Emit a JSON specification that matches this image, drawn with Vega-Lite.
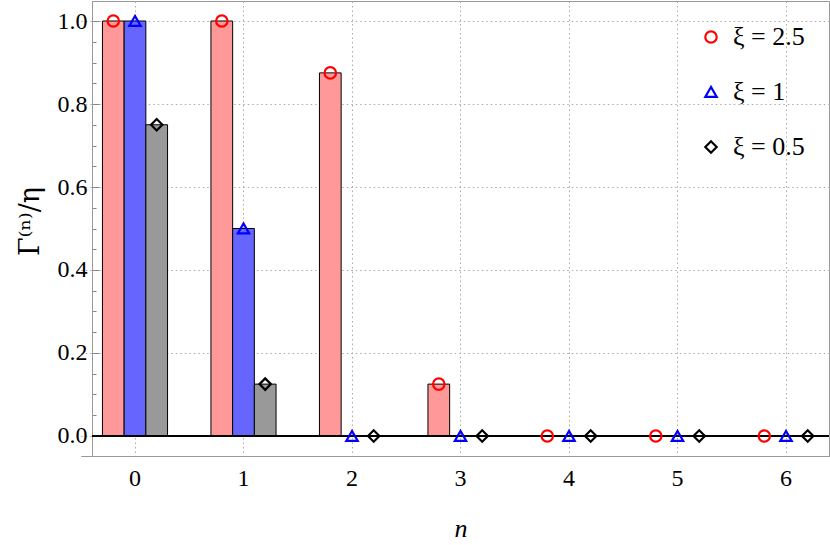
{
  "$schema": "https://vega.github.io/schema/vega-lite/v6.json",
  "width": 737,
  "height": 455,
  "autosize": {"type": "none"},
  "padding": {"left": 92, "top": 1, "right": 1, "bottom": 89},
  "config": {
    "view": {"stroke": "#999999", "strokeWidth": 1},
    "font": "Liberation Serif",
    "legend": {
      "orient": "none",
      "legendX": 606,
      "legendY": 23,
      "labelFontSize": 26,
      "labelFont": "Liberation Serif",
      "labelColor": "#000000",
      "labelOffset": 9,
      "labelExpr": "replace(replace(datum.label, ' ', '\u2002'), ' ', '\u2002')",
      "rowPadding": 29,
      "symbolSize": 130,
      "symbolStrokeWidth": 2.2
    }
  },
  "data": {
    "values": [
      {"n": 0, "xi": "ξ = 2.5", "value": 1},
      {"n": 1, "xi": "ξ = 2.5", "value": 1},
      {"n": 2, "xi": "ξ = 2.5", "value": 0.875},
      {"n": 3, "xi": "ξ = 2.5", "value": 0.125},
      {"n": 4, "xi": "ξ = 2.5", "value": 0},
      {"n": 5, "xi": "ξ = 2.5", "value": 0},
      {"n": 6, "xi": "ξ = 2.5", "value": 0},
      {"n": 0, "xi": "ξ = 1", "value": 1},
      {"n": 1, "xi": "ξ = 1", "value": 0.5},
      {"n": 2, "xi": "ξ = 1", "value": 0},
      {"n": 3, "xi": "ξ = 1", "value": 0},
      {"n": 4, "xi": "ξ = 1", "value": 0},
      {"n": 5, "xi": "ξ = 1", "value": 0},
      {"n": 6, "xi": "ξ = 1", "value": 0},
      {"n": 0, "xi": "ξ = 0.5", "value": 0.75},
      {"n": 1, "xi": "ξ = 0.5", "value": 0.125},
      {"n": 2, "xi": "ξ = 0.5", "value": 0},
      {"n": 3, "xi": "ξ = 0.5", "value": 0},
      {"n": 4, "xi": "ξ = 0.5", "value": 0},
      {"n": 5, "xi": "ξ = 0.5", "value": 0},
      {"n": 6, "xi": "ξ = 0.5", "value": 0}
    ]
  },
  "encoding": {
    "x": {
      "field": "n",
      "type": "ordinal",
      "scale": {"range": [-11.25, 748.25], "paddingInner": 0, "paddingOuter": 0},
      "axis": {
        "title": "n",
        "titleFont": "Liberation Serif",
        "titleFontStyle": "italic",
        "titleFontWeight": "normal",
        "titleFontSize": 26,
        "titlePadding": 25,
        "labelAngle": 0,
        "labelFontSize": 24,
        "labelPadding": 10,
        "labelColor": "#000000",
        "bandPosition": 0.5,
        "grid": true,
        "gridColor": "#aaaaaa",
        "gridDash": [1.5, 3],
        "ticks": false,
        "domainColor": "#999999"
      }
    },
    "xOffset": {
      "field": "xi",
      "type": "nominal",
      "scale": {"domain": ["ξ = 2.5", "ξ = 1", "ξ = 0.5"], "paddingInner": 0, "paddingOuter": 1}
    },
    "y": {
      "field": "value",
      "type": "quantitative",
      "scale": {"domain": [-0.0482, 1.0482], "nice": false, "zero": false},
      "axis": {
        "title": "Γ⁽ⁿ⁾/η",
        "titleFont": "DejaVu Serif",
        "titleFontWeight": "normal",
        "titleFontSize": 27,
        "titlePadding": 13,
        "titleY": 220,
        "values": [0, 0.05, 0.1, 0.15, 0.2, 0.25, 0.3, 0.35, 0.4, 0.45, 0.5, 0.55, 0.6, 0.65, 0.7, 0.75, 0.8, 0.85, 0.9, 0.95, 1.0],
        "labelExpr": "round(datum.value*20) % 4 == 0 ? format(datum.value, '.1f') : ''",
        "labelFontSize": 24,
        "labelPadding": 12,
        "labelColor": "#000000",
        "grid": true,
        "gridColor": "#aaaaaa",
        "gridDash": [1.5, 3],
        "gridOpacity": {"condition": {"test": "round(datum.value*20) % 4 == 0", "value": 1}, "value": 0},
        "tickSize": {"condition": {"test": "round(datum.value*20) % 4 == 0", "value": -7}, "value": -4},
        "tickColor": "#888888",
        "domainColor": "#999999"
      }
    }
  },
  "layer": [
    {
      "mark": {"type": "bar", "stroke": "#000000", "strokeWidth": 1},
      "encoding": {
        "fill": {
          "field": "xi",
          "type": "nominal",
          "scale": {"domain": ["ξ = 0.5", "ξ = 1", "ξ = 2.5"], "range": ["#999999", "#6666ff", "#ff9999"]},
          "legend": null
        }
      }
    },
    {
      "mark": {"type": "rule", "color": "#000000", "strokeWidth": 1.2},
      "encoding": {"y": {"datum": 0}, "x": null, "xOffset": null}
    },
    {
      "mark": {"type": "point", "filled": false, "strokeWidth": 2.2, "size": 130, "opacity": 1},
      "encoding": {
        "stroke": {
          "field": "xi",
          "type": "nominal",
          "scale": {"domain": ["ξ = 2.5", "ξ = 1", "ξ = 0.5"], "range": ["#ff0000", "#0000ff", "#000000"]},
          "legend": {"title": null}
        },
        "shape": {
          "field": "xi",
          "type": "nominal",
          "scale": {"domain": ["ξ = 2.5", "ξ = 1", "ξ = 0.5"], "range": ["circle", "triangle-up", "diamond"]},
          "legend": {"title": null}
        }
      }
    }
  ]
}
